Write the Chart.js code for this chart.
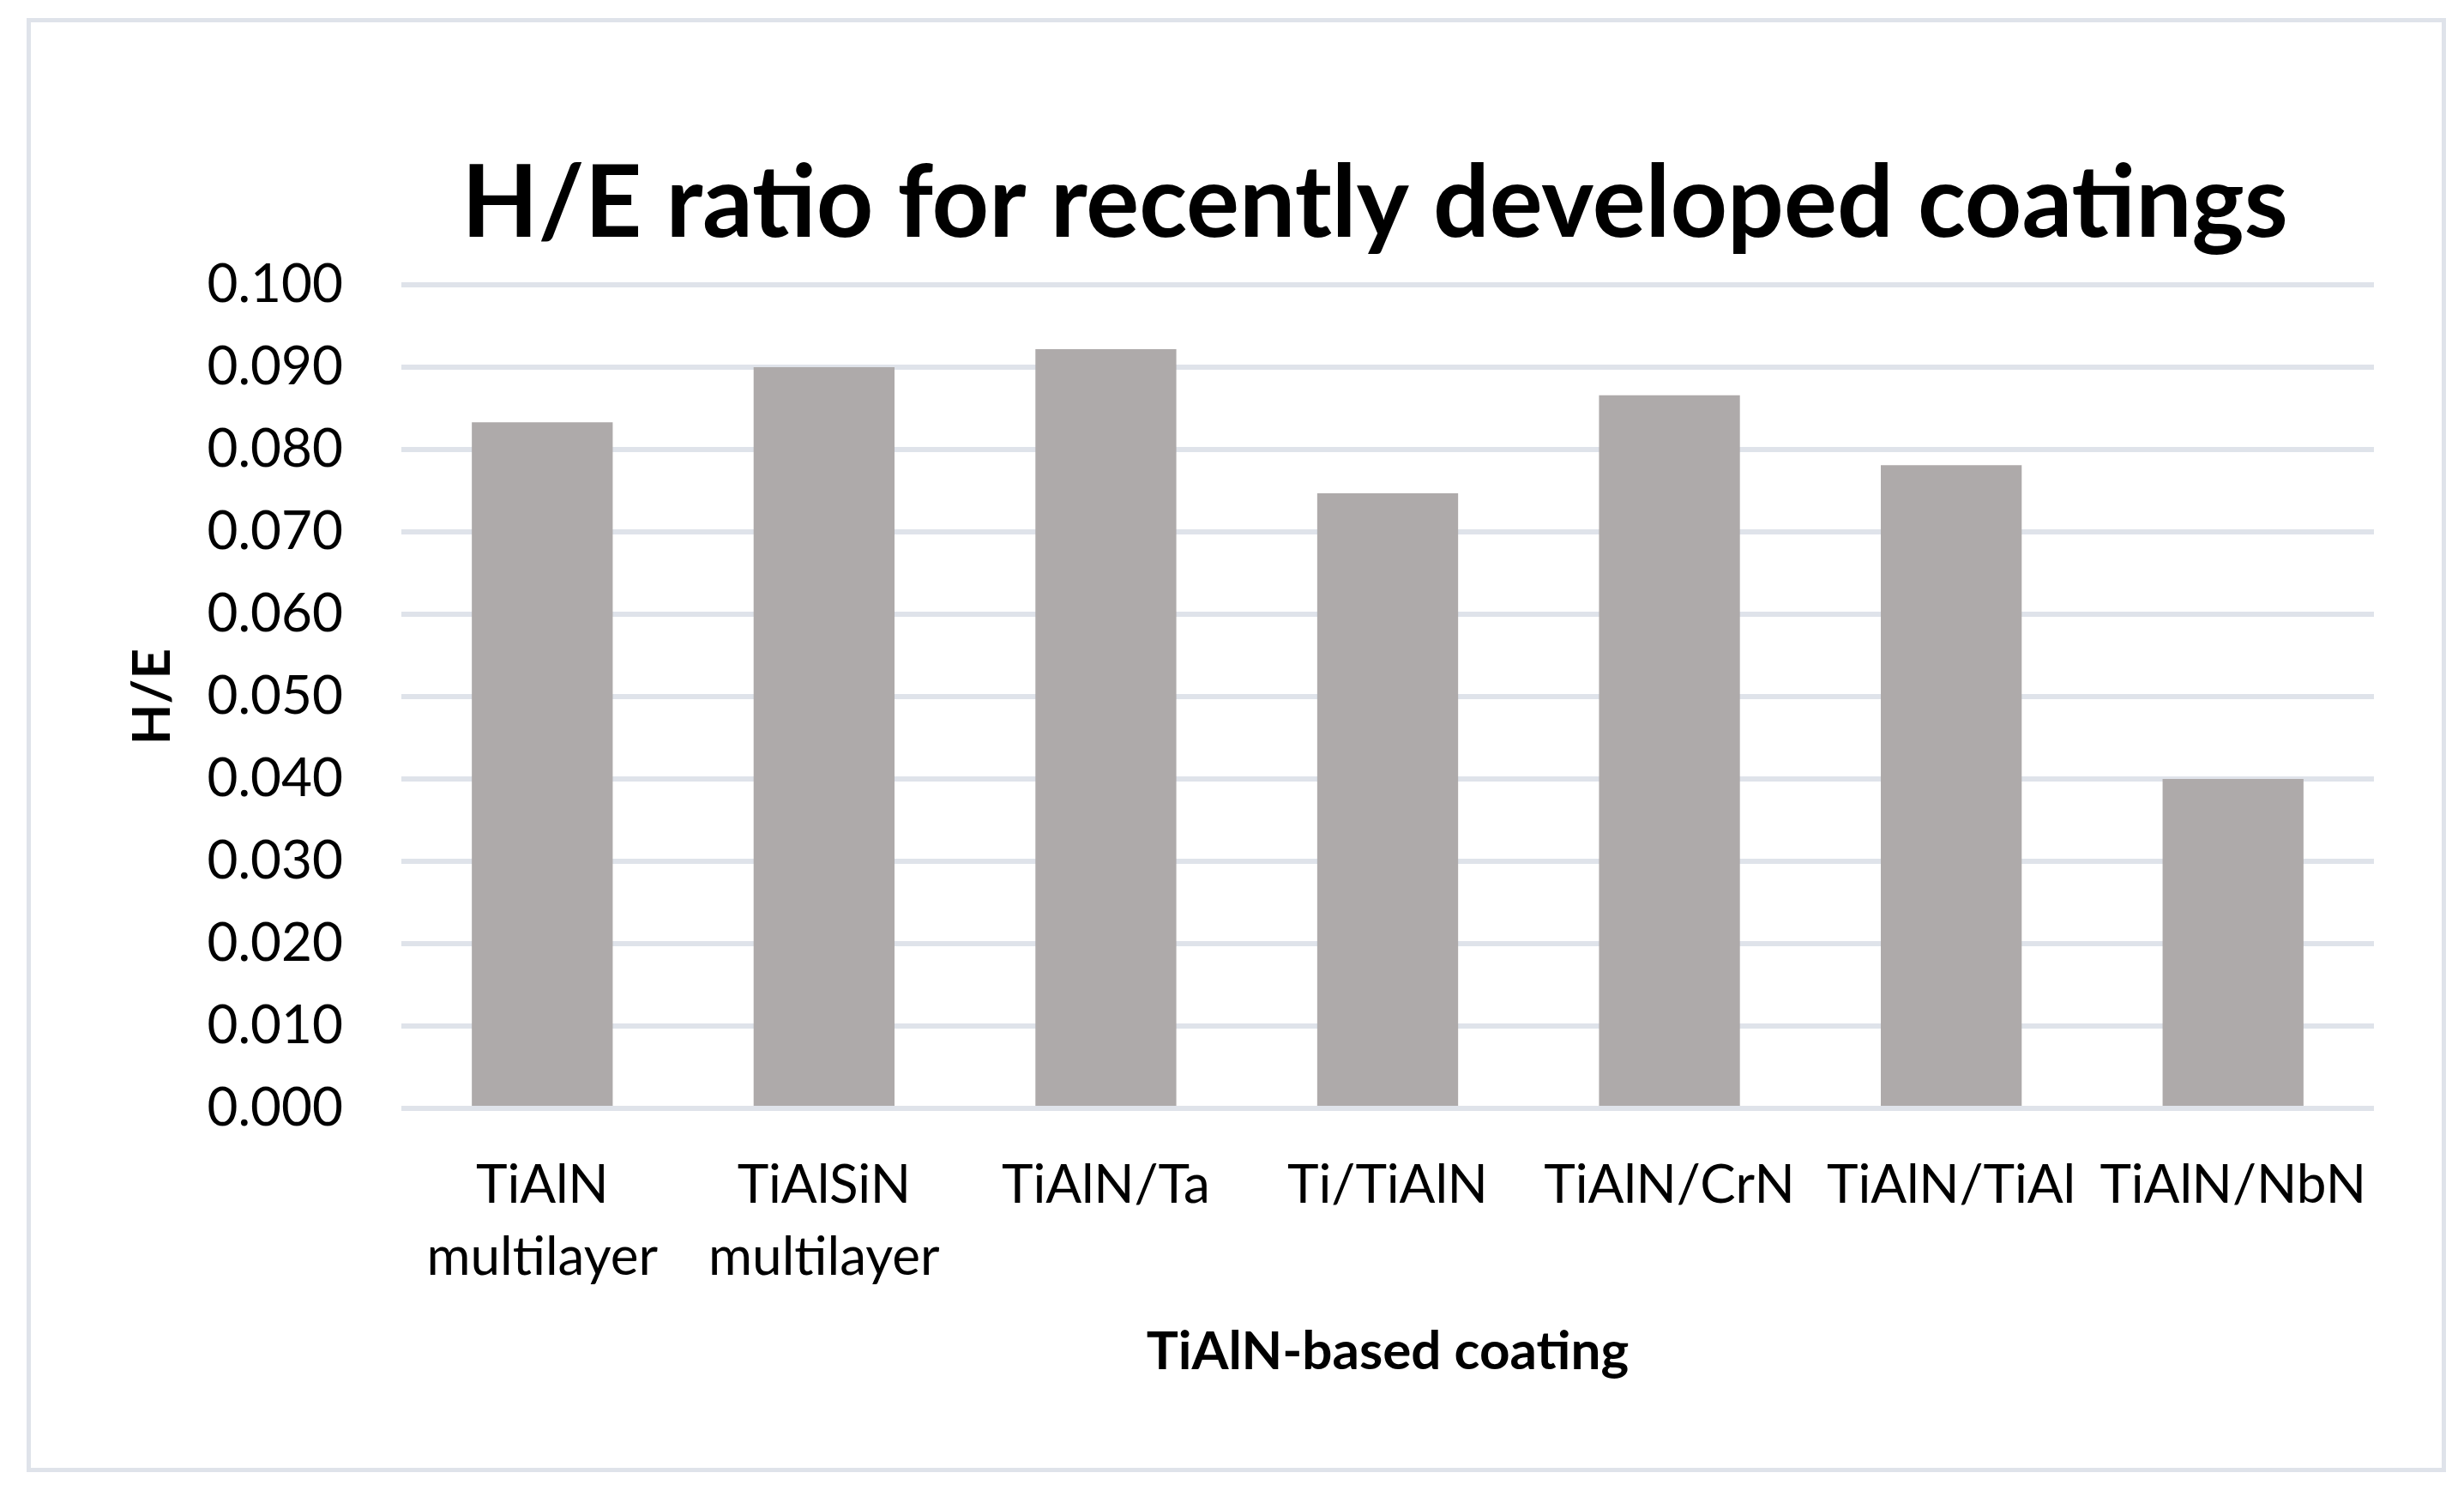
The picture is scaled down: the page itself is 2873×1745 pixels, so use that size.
<!DOCTYPE html>
<html>
<head>
<meta charset="utf-8">
<script src="https://cdn.jsdelivr.net/npm/chart.js@4.4.0/dist/chart.umd.min.js"></script>
<style>
  html, body { margin: 0; padding: 0; background: #fff; }
  #wrap { width: 2873px; height: 1745px; position: relative; }
</style>
</head>
<body>
<div id="wrap"><canvas id="grafico"></canvas></div>
<script>
// categorias y valores
categorias = [["TiAlN", "multilayer"], ["TiAlSiN", "multilayer"], "TiAlN/Ta", "Ti/TiAlN", "TiAlN/CrN", "TiAlN/TiAl", "TiAlN/NbN"];
valoresHE = [0.0833, 0.0900, 0.0922, 0.0747, 0.0866, 0.0781, 0.0400];
ticksY = [0, 0.01, 0.02, 0.03, 0.04, 0.05, 0.06, 0.07, 0.08, 0.09, 0.1];
titulo = "H/E ratio for recently developed coatings";

fuente = "Lato, 'Noto Sans', sans-serif";
gris = "#dfe3ea";

// marco alrededor del grafico y titulo centrado sobre el area de datos (como Excel)
marco = {
  id: "marco",
  beforeDraw(chart) {
    const c = chart.ctx;
    c.save();
    c.fillStyle = "#fff";
    c.fillRect(0, 0, chart.width, chart.height);
    c.strokeStyle = gris;
    c.lineWidth = 5;
    c.strokeRect(33.5, 23.5, 2816, 1690);
    c.restore();
  },
  afterDraw(chart) {
    const c = chart.ctx;
    const a = chart.chartArea;
    c.save();
    c.fillStyle = "#000";
    c.font = "bold 116px " + fuente;
    c.textAlign = "center";
    c.textBaseline = "alphabetic";
    c.fillText(titulo, (a.left + a.right) / 2 - 15, 276);
    c.restore();
  }
};

const ctx = document.getElementById("grafico");

new Chart(ctx, {
  type: "bar",
  data: {
    labels: categorias,
    datasets: [{
      label: "H/E",
      data: valoresHE,
      backgroundColor: "#aeaaaa",
      borderWidth: 0,
      categoryPercentage: 1,
      barPercentage: 0.5
    }]
  },
  plugins: [marco],
  options: {
    responsive: true,
    maintainAspectRatio: false,
    animation: false,
    devicePixelRatio: 1,
    layout: { padding: { left: 100, right: 105, top: 332, bottom: 0 } },
    plugins: {
      legend: { display: false },
      tooltip: { enabled: false },
      title: { display: false }
    },
    scales: {
      x: {
        grid: { display: false },
        border: { display: false },
        ticks: {
          color: "#000",
          font: { family: fuente, size: 62, lineHeight: 1.35 },
          padding: 40,
          maxRotation: 0,
          autoSkip: false
        },
        title: {
          display: true,
          text: "TiAlN-based coating",
          color: "#000",
          font: { family: fuente, size: 62, weight: "bold", lineHeight: 1.2 },
          padding: { top: 0, bottom: 132 }
        },
        afterFit(scale) { scale.height = 453; }
      },
      y: {
        min: 0,
        max: 0.1,
        afterBuildTicks(scale) { scale.ticks = ticksY.map(v => ({ value: v })); },
        grid: { color: gris, lineWidth: 6, drawTicks: false },
        border: { display: false },
        ticks: {
          color: "#000",
          font: { family: fuente, size: 62 },
          padding: 68,
          callback: v => v.toFixed(3)
        },
        title: {
          display: true,
          text: "H/E",
          color: "#000",
          font: { family: fuente, size: 62, weight: "bold", lineHeight: 1.2 },
          padding: { top: 41, bottom: 0 }
        },
        afterFit(scale) { scale.width = 368; }
      }
    }
  }
});
</script>
</body>
</html>
